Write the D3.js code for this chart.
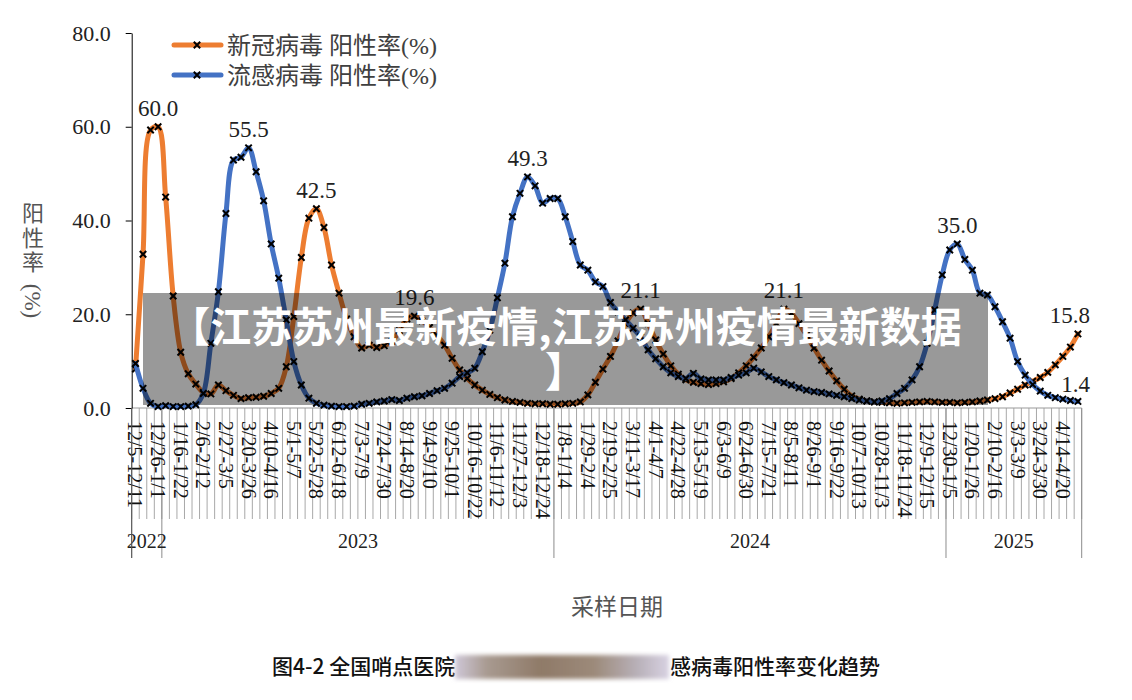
<!DOCTYPE html>
<html><head><meta charset="utf-8">
<script src="https://cdn.jsdelivr.net/npm/d3@7"></script>
<style>body{margin:0;background:#fff}</style>
</head><body><svg id="c" width="1132" height="700"></svg>
<script>
const weeks = [
"12/5-12/11","12/12-12/18","12/19-12/25","12/26-1/1",
"1/2-1/8","1/9-1/15","1/16-1/22","1/23-1/29","1/30-2/5","2/6-2/12","2/13-2/19","2/20-2/26","2/27-3/5","3/6-3/12","3/13-3/19","3/20-3/26","3/27-4/2","4/3-4/9","4/10-4/16","4/17-4/23","4/24-4/30","5/1-5/7","5/8-5/14","5/15-5/21","5/22-5/28","5/29-6/4","6/5-6/11","6/12-6/18","6/19-6/25","6/26-7/2","7/3-7/9","7/10-7/16","7/17-7/23","7/24-7/30","7/31-8/6","8/7-8/13","8/14-8/20","8/21-8/27","8/28-9/3","9/4-9/10","9/11-9/17","9/18-9/24","9/25-10/1","10/2-10/8","10/9-10/15","10/16-10/22","10/23-10/29","10/30-11/5","11/6-11/12","11/13-11/19","11/20-11/26","11/27-12/3","12/4-12/10","12/11-12/17","12/18-12/24","12/25-12/31",
"1/1-1/7","1/8-1/14","1/15-1/21","1/22-1/28","1/29-2/4","2/5-2/11","2/12-2/18","2/19-2/25","2/26-3/3","3/4-3/10","3/11-3/17","3/18-3/24","3/25-3/31","4/1-4/7","4/8-4/14","4/15-4/21","4/22-4/28","4/29-5/5","5/6-5/12","5/13-5/19","5/20-5/26","5/27-6/2","6/3-6/9","6/10-6/16","6/17-6/23","6/24-6/30","7/1-7/7","7/8-7/14","7/15-7/21","7/22-7/28","7/29-8/4","8/5-8/11","8/12-8/18","8/19-8/25","8/26-9/1","9/2-9/8","9/9-9/15","9/16-9/22","9/23-9/29","9/30-10/6","10/7-10/13","10/14-10/20","10/21-10/27","10/28-11/3","11/4-11/10","11/11-11/17","11/18-11/24","11/25-12/1","12/2-12/8","12/9-12/15","12/16-12/22","12/23-12/29",
"12/30-1/5","1/6-1/12","1/13-1/19","1/20-1/26","1/27-2/2","2/3-2/9","2/10-2/16","2/17-2/23","2/24-3/2","3/3-3/9","3/10-3/16","3/17-3/23","3/24-3/30","3/31-4/6","4/7-4/13","4/14-4/20","4/21-4/27","4/28-5/4"];
const years = ["2022","2023","2024","2025"];
const yearWeekCounts = [4,52,52,18];
const tickEvery = 3;
const yTicks = [0,20,40,60,80];

const covid = [8.3,32.8,59.3,60.0,45.0,23.9,11.9,7.3,5.1,3.3,3.0,4.9,3.7,2.7,2.0,2.2,2.3,2.5,3.1,4.2,
8.8,19.5,32.1,40.5,42.5,38.5,30.5,24.5,19.0,15.2,12.8,13.4,12.9,13.3,14.2,16.5,19.0,19.6,18.6,17.2,
15.5,13.4,10.6,8.1,6.3,4.9,3.8,2.9,2.2,1.7,1.4,1.2,1.0,0.9,0.9,0.8,0.8,0.9,1.0,1.3,
2.8,5.5,8.3,11.0,14.3,18.0,20.3,21.1,18.0,14.5,11.5,9.0,7.2,6.0,5.5,5.2,5.0,5.2,5.6,6.3,
7.5,9.0,10.8,12.8,15.2,18.0,21.1,20.2,18.0,15.5,12.8,10.2,7.9,5.8,4.0,2.6,1.9,1.5,1.3,1.2,
1.1,1.0,1.1,1.2,1.3,1.4,1.3,1.2,1.2,1.1,1.2,1.3,1.5,1.7,2.0,2.4,3.2,4.0,4.9,5.7,
6.5,7.6,9.2,11.0,13.0,15.8];
const flu = [9.5,4.2,1.0,0.3,0.5,0.3,0.3,0.4,0.7,3.1,13.8,24.8,41.5,52.9,53.5,55.5,50.4,44.2,35.0,27.7,
18.8,9.9,4.9,2.1,1.0,0.6,0.4,0.3,0.3,0.4,0.8,1.0,1.3,1.5,1.8,1.6,2.1,2.4,2.6,3.1,
3.7,4.2,5.3,6.7,7.5,8.5,12.0,16.6,23.5,30.9,40.8,45.8,49.3,47.4,43.7,44.7,44.7,40.8,35.5,30.5,
29.4,26.9,25.9,22.5,20.5,18.8,17.0,15.2,12.4,10.5,8.8,7.5,6.7,6.3,7.4,6.2,6.0,6.0,6.0,6.5,
7.0,7.5,8.5,7.7,6.7,6.0,5.4,4.9,4.3,3.8,3.5,3.3,3.0,2.7,2.4,2.0,1.7,1.5,1.3,1.5,
2.0,3.1,4.2,6.0,8.8,13.8,20.9,28.4,33.7,35.0,31.7,29.4,24.5,24.1,21.6,18.4,14.9,9.9,7.0,5.0,
3.6,2.7,2.2,1.9,1.6,1.4];
const covidLabelIdx = [3,24,37,67,86,125];
const fluLabelIdx = [15,52,109,125];
const seriesNames = ["新冠病毒 阳性率(%)","流感病毒 阳性率(%)"];
const seriesColors = ["#ED7D31","#4472C4"];
const bannerLines = ["【江苏苏州最新疫情,江苏苏州疫情最新数据","】"];
const xTitle = "采样日期";
const yTitleChars = ["阳","性","率"];
const yTitleTail = "(%)";
const captionLeft = "图4-2 全国哨点医院";
const captionRight = "感病毒阳性率变化趋势";

const svg = d3.select("#c");
const L = 131.7, R = 1081.7, T = 33, B = 408;
const x = d3.scaleBand().domain(weeks).range([L, R]).padding(0);
const bw = x.bandwidth();
const cx = w => x(w) + bw/2;
const y = d3.scaleLinear().domain([0,80]).range([B, T]);
const serif = "'Liberation Serif','Times New Roman',serif";
const cjk = "'Noto Sans CJK SC','Noto Sans',sans-serif";

// category boundary lines
const bounds = weeks.map(w => x(w)).concat([R]);
svg.append("g").selectAll("line").data(bounds).join("line")
  .attr("x1", d=>d).attr("x2", d=>d).attr("y1", B).attr("y2", 519)
  .attr("stroke", "#a8a8a8").attr("stroke-width", 1);
// year separators
let acc = 0; const yearInfo = [];
years.forEach((yr,k) => {
  const s = x(weeks[acc]); const e = x(weeks[acc+yearWeekCounts[k]-1]) + bw;
  yearInfo.push({yr, s, e}); acc += yearWeekCounts[k];
});
const yb = [yearInfo[0].s].concat(yearInfo.map(d=>d.e));
svg.append("g").selectAll("line").data(yb).join("line")
  .attr("x1", d=>d).attr("x2", d=>d).attr("y1", B).attr("y2", 558)
  .attr("stroke", "#8c8c8c").attr("stroke-width", 1);
svg.append("g").selectAll("text").data(yearInfo).join("text")
  .attr("x", d=>(d.s+d.e)/2).attr("y", 548).attr("text-anchor","middle")
  .attr("font-family", serif).attr("font-size", 20).attr("fill","#222").text(d=>d.yr);
// x axis line
svg.append("line").attr("x1",L).attr("x2",R).attr("y1",B).attr("y2",B).attr("stroke","#999");

// x tick labels
const xAxis = d3.axisBottom(x).tickValues(weeks.filter((d,i)=>i%tickEvery===0)).tickSize(0);
const gx = svg.append("g").attr("transform",`translate(0,${B})`).call(xAxis);
gx.select(".domain").remove();
gx.selectAll("text").attr("transform","rotate(90)").attr("x",13).attr("y",0).attr("dy","0.35em")
  .attr("text-anchor","start").attr("font-family",serif).attr("font-size",20).attr("fill","#111");

// y axis
const yAxis = d3.axisLeft(y).tickValues(yTicks).tickFormat(d3.format(".1f")).tickSize(6).tickSizeOuter(0).tickPadding(15);
const gy = svg.append("g").attr("transform",`translate(${L},0)`).call(yAxis);
gy.select(".domain").attr("stroke","#000");
gy.selectAll(".tick line").attr("stroke","#000");
gy.selectAll("text").attr("font-family",serif).attr("font-size",22).attr("fill","#222");
svg.append("line").attr("x1",L).attr("x2",L).attr("y1",B).attr("y2",558).attr("stroke","#555");

// y title
svg.append("g").selectAll("text").data(yTitleChars).join("text")
  .attr("x",33).attr("y",(d,i)=>211+i*24.5).attr("text-anchor","middle").attr("dominant-baseline","central")
  .attr("font-family",cjk).attr("font-size",22).attr("fill","#555").text(d=>d);
svg.append("text").attr("transform","translate(33,301) rotate(90)").attr("text-anchor","middle")
  .attr("dy","0.33em").attr("font-family",serif).attr("font-size",23).attr("fill","#555").text(yTitleTail);

// series
const line = d3.line().x((d,i)=>cx(weeks[i])).y(d=>y(d)).curve(d3.curveCatmullRom.alpha(0.5));
const marker = (g, data) => {
  const s = 3.2;
  g.selectAll("path.m").data(data).join("path").attr("class","m")
   .attr("d",(d,i)=>{const px=cx(weeks[i]), py=y(d); return `M${px-s},${py-s}L${px+s},${py+s}M${px-s},${py+s}L${px+s},${py-s}`;})
   .attr("stroke","#000").attr("stroke-width",2);
};
[covid, flu].forEach((data,k) => {
  const g = svg.append("g");
  g.append("path").datum(data).attr("d",line).attr("fill","none")
   .attr("stroke",seriesColors[k]).attr("stroke-width",5).attr("stroke-linejoin","round").attr("stroke-linecap","round");
  marker(g, data);
});

// data labels
const labs = covidLabelIdx.map(i=>({i,v:covid[i]})).concat(fluLabelIdx.map(i=>({i,v:flu[i]})));
svg.append("g").selectAll("text").data(labs).join("text")
  .each(function(d){
    const sel = d3.select(this).attr("font-family",serif).attr("font-size",23).attr("fill","#222")
      .text(d3.format(".1f")(d.v));
    const px = cx(weeks[d.i]);
    const w = this.getComputedTextLength();
    if (px + w/2 > 1090) sel.attr("x",1090).attr("text-anchor","end");
    else sel.attr("x",px).attr("text-anchor","middle");
    sel.attr("y", y(d.v) - (d.v < 3 ? 9 : 11));
  });

// legend
seriesNames.forEach((name,k) => {
  const ly = 45 + k*30;
  const g = svg.append("g");
  g.append("line").attr("x1",174).attr("x2",221).attr("y1",ly).attr("y2",ly)
    .attr("stroke",seriesColors[k]).attr("stroke-width",5).attr("stroke-linecap","round");
  g.append("path").attr("d",`M${197-3.2},${ly-3.2}L${197+3.2},${ly+3.2}M${197-3.2},${ly+3.2}L${197+3.2},${ly-3.2}`)
    .attr("stroke","#000").attr("stroke-width",2);
  g.append("text").attr("x",227).attr("y",ly+8.5).attr("font-family",serif+","+cjk)
    .attr("font-size",24).attr("fill","#404040").text(name);
});

// x title
svg.append("text").attr("x",617).attr("y",615).attr("text-anchor","middle")
  .attr("font-family",cjk).attr("font-size",23).attr("fill","#555").text(xTitle);

// banner overlay
svg.append("rect").attr("x",143).attr("y",293).attr("width",845).attr("height",112).attr("fill","rgba(0,0,0,0.4)");
svg.append("g").selectAll("text").data(bannerLines).join("text")
  .attr("x",565.5).attr("y",(d,i)=>342+i*45).attr("text-anchor","middle")
  .attr("font-family",cjk).attr("font-weight",700).attr("font-size",41).attr("fill","#fff").text(d=>d);

// caption
svg.append("text").attr("x",272).attr("y",674).attr("font-family",cjk).attr("font-size",21)
  .attr("font-weight",500).attr("fill","#111").text(captionLeft);
svg.append("text").attr("x",880).attr("y",674).attr("text-anchor","end").attr("font-family",cjk).attr("font-size",21)
  .attr("font-weight",500).attr("fill","#111").text(captionRight);
const defs = svg.append("defs");
const gr = defs.append("linearGradient").attr("id","smear");
[["0%","#cfc8d8"],["15%","#a89a90"],["40%","#8f7a68"],["65%","#9c8a7a"],["85%","#b8b0b8"],["100%","#d8d2e2"]]
  .forEach(([o,c])=>gr.append("stop").attr("offset",o).attr("stop-color",c));
defs.append("filter").attr("id","bl").attr("x","-5%").attr("y","-30%").attr("width","110%").attr("height","160%")
  .append("feGaussianBlur").attr("stdDeviation",2);
svg.append("rect").attr("x",455).attr("y",655).attr("width",214).attr("height",24)
  .attr("fill","url(#smear)").attr("filter","url(#bl)");
</script></body></html>
